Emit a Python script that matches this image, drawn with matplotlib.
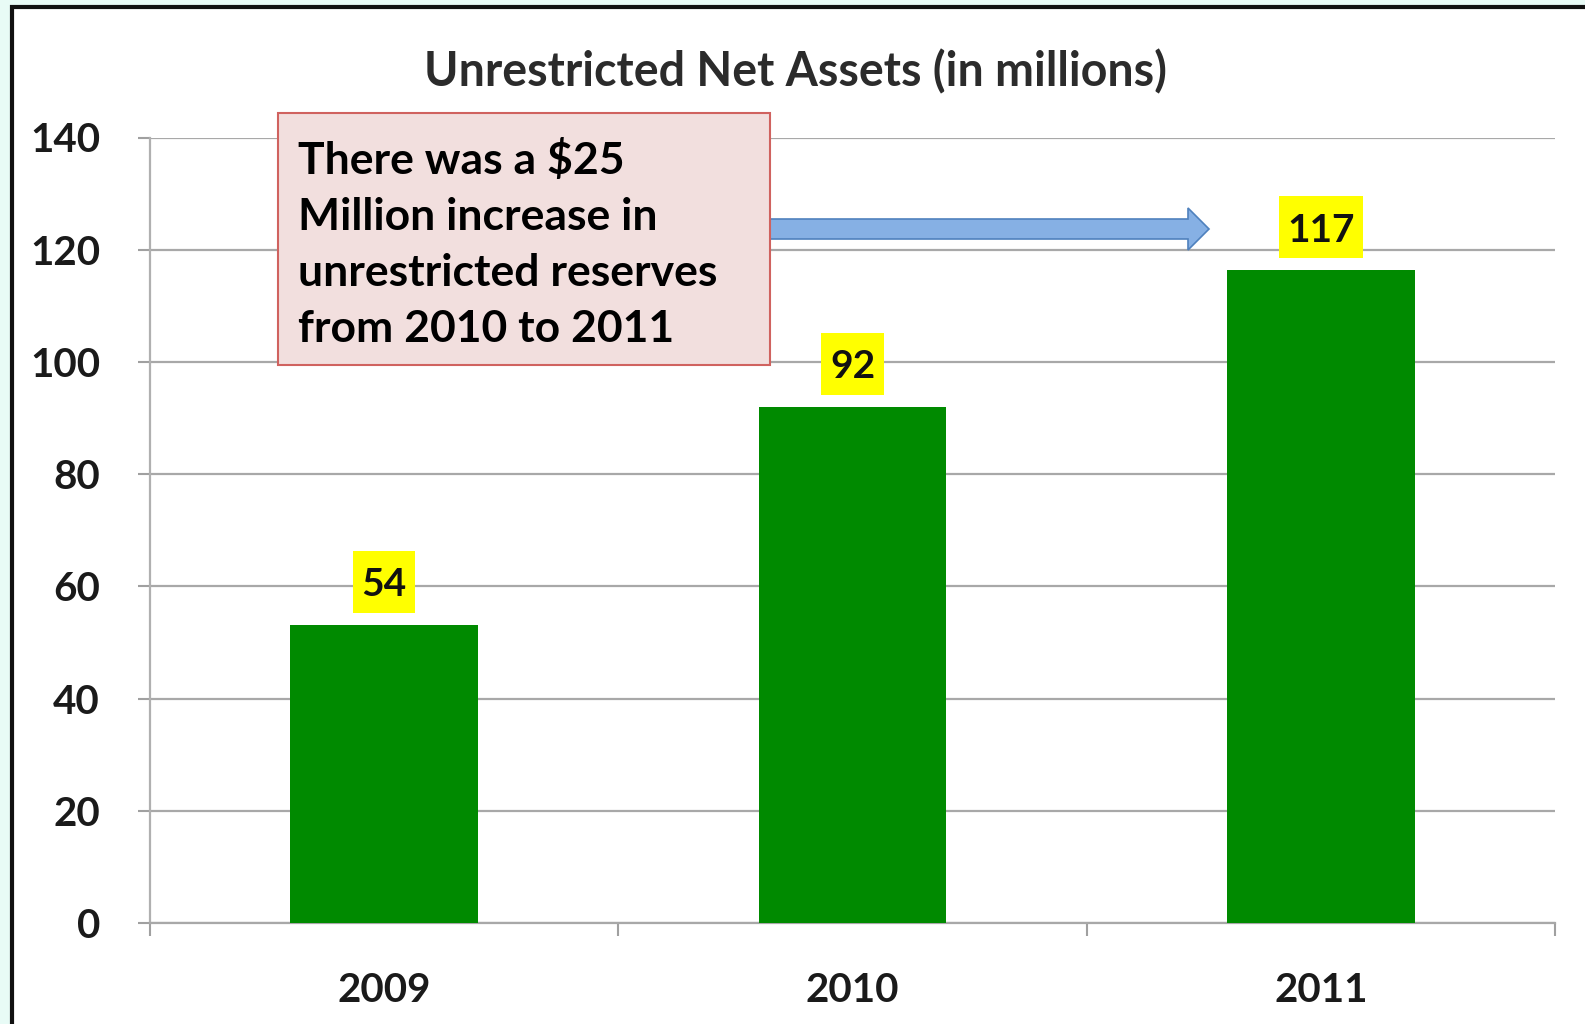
import matplotlib
matplotlib.use("Agg")
import matplotlib.pyplot as plt
from matplotlib.patches import Rectangle, Polygon
from matplotlib import transforms

years = ["2009", "2010", "2011"]
values = [53.2, 92.0, 116.3]
labels = ["54", "92", "117"]
yticks = [0, 20, 40, 60, 80, 100, 120, 140]
title = "Unrestricted Net Assets (in millions)"
note = "There was a $25\nMillion increase in\nunrestricted reserves\nfrom 2010 to 2011"

W, H = 1585, 1024
plt.rcParams['font.family'] = ['Lato', 'DejaVu Sans']
fig = plt.figure(figsize=(W / 100, H / 100), dpi=100)
fig.patch.set_facecolor('white')

def fx(x):
    return x / W

def fy(y):
    return 1 - y / H

# outer background strip and frame
fig.patches.append(Rectangle((0, 0), 1, 1, transform=fig.transFigure,
                             facecolor='#e8fbf6', edgecolor='none', zorder=-10))
fig.patches.append(Rectangle((fx(11.5), fy(1100)), 1.2, fy(7) - fy(1100),
                             transform=fig.transFigure, facecolor='white',
                             edgecolor='#111111', linewidth=3, zorder=-9))

ax = fig.add_axes([fx(150), fy(923), fx(1555) - fx(150), fy(137.5) - fy(923)])
ax.set_facecolor('none')
x = list(range(len(years)))
ax.bar(x, values, width=0.4, color='#008a00', zorder=3)
ax.set_xlim(-0.5, 2.5)
ax.set_ylim(0, 140)
ax.set_yticks(yticks)
ax.set_yticklabels([str(v) for v in yticks], fontsize=29, fontweight='bold', color='#1a1a1a')
ax.set_xticks(x)
ax.set_xticklabels(years, fontsize=29, fontweight='bold', color='#1a1a1a')
ax.tick_params(axis='x', length=0, pad=35)
ax.set_xticks([-0.5, 0.5, 1.5, 2.5], minor=True)
ax.tick_params(axis='x', which='minor', length=9, width=1.5, color='#a0a0a0', direction='out')
ax.tick_params(axis='y', length=9, width=1.5, color='#a0a0a0', pad=27)
ax.grid(axis='y', color='#a8a8a8', linewidth=1.6, zorder=0)
for s in ['top', 'right']:
    ax.spines[s].set_visible(False)
ax.spines['left'].set_color('#b0b0b0')
ax.spines['left'].set_linewidth(1.6)
ax.spines['bottom'].set_color('#a8a8a8')
ax.spines['bottom'].set_linewidth(1.6)

# value labels with yellow boxes (box sized in pixels, anchored on bar top)
gap, bh = 12, 62
for xi, v, lab in zip(x, values, labels):
    bw = 19 + 21.8 * len(lab)
    tr = transforms.IdentityTransform() + transforms.ScaledTranslation(xi, v, ax.transData)
    ax.add_patch(Rectangle((-bw / 2, gap), bw, bh, transform=tr, facecolor='#ffff00',
                           edgecolor='none', zorder=5, clip_on=False))
    ax.annotate(lab, (xi, v), xytext=(0, (gap + bh / 2) * 0.72), textcoords='offset points',
                ha='center', va='center_baseline', fontsize=28, fontweight='bold',
                color='#111111', zorder=6, annotation_clip=False)

fig.text(fx(796), fy(72), title, ha='center', va='center', fontsize=33.5,
         fontweight='bold', color='#2b2b2b')

# annotation box
fig.patches.append(Rectangle((fx(278), fy(365)), fx(770) - fx(278), fy(113) - fy(365),
                             transform=fig.transFigure, facecolor='#f2dfde',
                             edgecolor='#d0625f', linewidth=1.5, zorder=5))
fig.text(fx(298), fy(244), note, ha='left', va='center', fontsize=32,
         fontweight='bold', color='black', linespacing=1.49, zorder=6)

# blue arrow
yc = 229
pts = [(770, yc - 10), (1188, yc - 10), (1188, yc - 21), (1209, yc),
       (1188, yc + 21), (1188, yc + 10), (770, yc + 10)]
fig.patches.append(Polygon([(fx(a), fy(b)) for a, b in pts], closed=True,
                           transform=fig.transFigure, facecolor='#86b0e4',
                           edgecolor='#4f81bd', linewidth=1.2, zorder=4))

fig.savefig('out.png', dpi=100)
